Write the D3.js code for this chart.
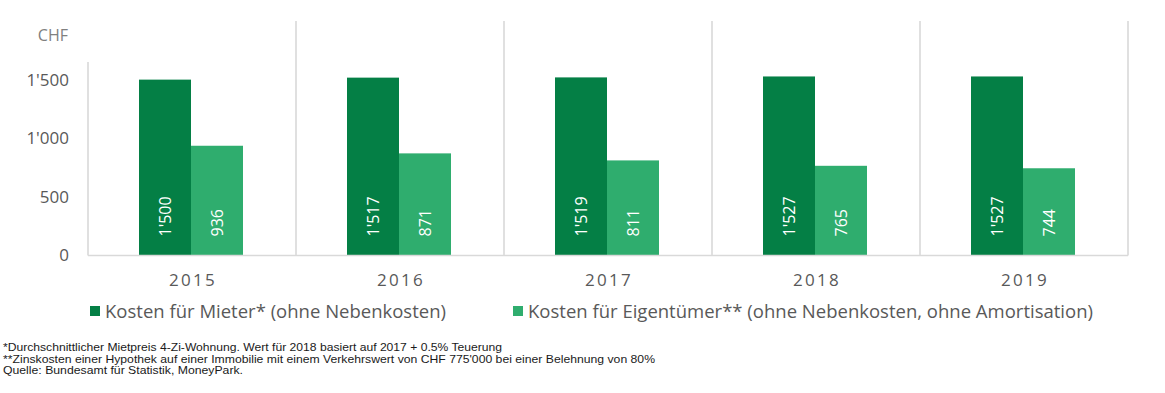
<!DOCTYPE html>
<html>
<head>
<meta charset="utf-8">
<script src="https://cdn.jsdelivr.net/npm/d3@7"></script>
<style>
  html, body { margin: 0; padding: 0; background: #ffffff; }
  svg { display: block; font-family: "Open Sans", "Noto Sans", sans-serif; }
</style>
</head>
<body>
<svg id="chart" width="1165" height="393"></svg>
<script>
const categories = ["2015", "2016", "2017", "2018", "2019"];
const seriesNames = [
  "Kosten für Mieter* (ohne Nebenkosten)",
  "Kosten für Eigentümer** (ohne Nebenkosten, ohne Amortisation)"
];
const mieterValues = [1500, 1517, 1519, 1527, 1527];
const eigentuemerValues = [936, 871, 811, 765, 744];
const yTickValues = [0, 500, 1000, 1500];
const yUnitLabel = "CHF";
const footnotes = [
  "*Durchschnittlicher Mietpreis 4-Zi-Wohnung. Wert für 2018 basiert auf 2017 + 0.5% Teuerung",
  "**Zinskosten einer Hypothek auf einer Immobilie mit einem Verkehrswert von CHF 775'000 bei einer Belehnung von 80%",
  "Quelle: Bundesamt für Statistik, MoneyPark."
];

const colors = ["#047f45", "#2fad6e"];
const seriesValues = [mieterValues, eigentuemerValues];

const svg = d3.select("#chart");
const plot = { left: 88, right: 1128, top: 21, bottom: 255.5 };

const locale = d3.formatLocale({ decimal: ".", thousands: "'", grouping: [3], currency: ["", ""] });
const fmt = locale.format(",d");

const x = d3.scaleBand().domain(categories).range([plot.left, plot.right]).paddingInner(0).paddingOuter(0);
const xSub = d3.scaleBand().domain(d3.range(seriesNames.length)).range([0, x.bandwidth()]).paddingInner(0).paddingOuter(1);
const y = d3.scaleLinear().domain([0, 2000]).range([plot.bottom, plot.top]);

// category separators
svg.append("g").selectAll("line")
  .data(categories)
  .join("line")
  .attr("x1", d => x(d) + x.bandwidth())
  .attr("x2", d => x(d) + x.bandwidth())
  .attr("y1", plot.top)
  .attr("y2", plot.bottom)
  .attr("stroke", "#d9d9d9")
  .attr("stroke-width", 1.6);

// y axis line (starts below the unit label)
svg.append("line")
  .attr("x1", plot.left).attr("x2", plot.left)
  .attr("y1", plot.top + 41).attr("y2", plot.bottom)
  .attr("stroke", "#d9d9d9").attr("stroke-width", 1.6);

// bars
const groups = svg.append("g").selectAll("g")
  .data(categories)
  .join("g")
  .attr("transform", d => `translate(${x(d) - 1},0)`);

groups.selectAll("rect")
  .data((d, i) => seriesValues.map((vals, s) => ({ s, v: vals[i] })))
  .join("rect")
  .attr("x", d => xSub(d.s))
  .attr("width", xSub.bandwidth())
  .attr("y", d => y(d.v))
  .attr("height", d => y(0) - y(d.v))
  .attr("fill", d => colors[d.s]);

groups.selectAll("text")
  .data((d, i) => seriesValues.map((vals, s) => ({ s, v: vals[i] })))
  .join("text")
  .attr("transform", d => `translate(${xSub(d.s) + xSub.bandwidth() / 2},${y(0) - 19}) rotate(-90)`)
  .attr("text-anchor", "start")
  .attr("dominant-baseline", "central")
  .attr("fill", "#ffffff")
  .attr("font-size", 16)
  .text(d => fmt(d.v));

// x axis baseline
svg.append("line")
  .attr("x1", plot.left).attr("x2", plot.right)
  .attr("y1", plot.bottom).attr("y2", plot.bottom)
  .attr("stroke", "#d9d9d9").attr("stroke-width", 1.6);

// y axis ticks
const yAxis = d3.axisLeft(y).tickValues(yTickValues).tickSize(0).tickPadding(19).tickFormat(fmt);
const yg = svg.append("g").attr("transform", `translate(${plot.left},0)`).call(yAxis);
yg.select(".domain").remove();
yg.selectAll("text")
  .attr("font-size", 17)
  .attr("fill", "#595959")
  .attr("font-family", "\"Open Sans\", \"Noto Sans\", sans-serif");

// unit label
svg.append("text")
  .attr("x", plot.left - 20)
  .attr("y", 35)
  .attr("text-anchor", "end")
  .attr("dominant-baseline", "central")
  .attr("font-size", 16)
  .attr("fill", "#808080")
  .text(yUnitLabel);

// x axis labels
const xAxis = d3.axisBottom(x).tickSize(0).tickPadding(0);
const xg = svg.append("g").attr("transform", `translate(0,${plot.bottom})`).call(xAxis);
xg.select(".domain").remove();
xg.selectAll("text")
  .attr("y", 30)
  .attr("dy", 0)
  .attr("dx", 1)
  .attr("font-size", 17)
  .attr("letter-spacing", "2.3px")
  .attr("fill", "#595959")
  .attr("font-family", "\"Open Sans\", \"Noto Sans\", sans-serif");

// legend
const legendItems = [
  { sq: 90, tx: 105, w: 341 },
  { sq: 513, tx: 528, w: 565 }
];
const lg = svg.append("g").selectAll("g").data(seriesNames).join("g");
lg.append("rect")
  .attr("x", (d, i) => legendItems[i].sq)
  .attr("y", 306)
  .attr("width", 10).attr("height", 10)
  .attr("fill", (d, i) => colors[i]);
lg.append("text")
  .attr("x", (d, i) => legendItems[i].tx)
  .attr("y", 318)
  .attr("font-size", 19)
  .attr("fill", "#595959")
  .attr("textLength", (d, i) => legendItems[i].w)
  .attr("lengthAdjust", "spacingAndGlyphs")
  .text(d => d);

// footnotes
const footW = [499, 652, 240];
svg.append("g").selectAll("text")
  .data(footnotes)
  .join("text")
  .attr("x", 3)
  .attr("y", (d, i) => 351 + i * 11.5)
  .attr("font-size", 10.2)
  .attr("font-family", "\"Liberation Sans\", Arial, sans-serif")
  .attr("fill", "#1a1a1a")
  .attr("textLength", (d, i) => footW[i])
  .attr("lengthAdjust", "spacingAndGlyphs")
  .text(d => d);
</script>
</body>
</html>
